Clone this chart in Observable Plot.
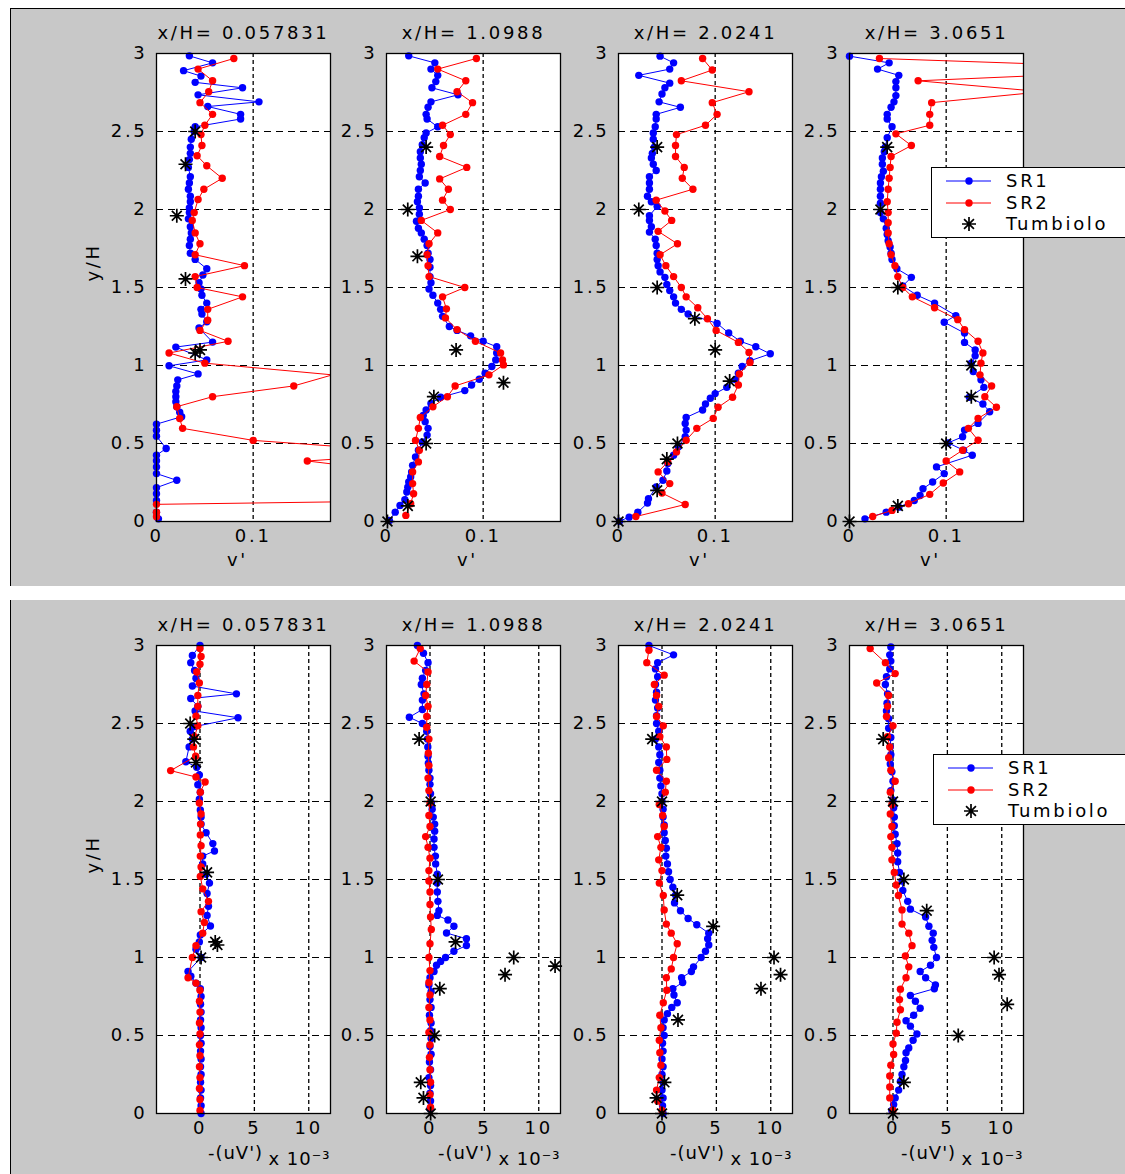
<!DOCTYPE html>
<html>
<head>
<meta charset="utf-8">
<script src="https://cdn.jsdelivr.net/npm/d3@7"></script>
<script src="https://cdn.jsdelivr.net/npm/@observablehq/plot@0.6"></script>
<style>
  html, body { margin: 0; padding: 0; background: white; }
  body { width: 1125px; height: 1174px; overflow: hidden; position: relative; font-family: "DejaVu Sans", sans-serif; }
  .fig { position: absolute; background: #c8c8c8; }
  .pan { position: absolute; }
  .leg { position: absolute; z-index: 5; }
</style>
</head>
<body>
<div class="fig" style="left:10px;top:8px;width:1115px;height:577px;border-left:1px solid #000;border-top:1px solid #000;"></div>
<div class="fig" style="left:10px;top:600px;width:1115px;height:574px;border-left:1px solid #000;"></div>
<div id="root"></div>
<script>
// ---------------- data ----------------
const titles = ["x/H= 0.057831", "x/H= 1.0988", "x/H= 2.0241", "x/H= 3.0651"];
const seriesNames = ["SR1", "SR2", "Tumbiolo"];
const yTicks = [0, 0.5, 1, 1.5, 2, 2.5, 3];
const vTicks = [0, 0.1];
const uvTicks = [0, 5, 10];
const vLabel = "v'";
const uvLabel = "-(uV')";
const uvExponent = "x 10\u207B\u00B3";
const yLabel = "y/H";

// v' profiles  [v', y/H]
const vSR1_1 = [[0.034,2.985],[0.058,2.94],[0.028,2.89],[0.046,2.855],[0.040,2.815],[0.089,2.78],[0.043,2.735],[0.106,2.69],[0.053,2.66],[0.087,2.61],[0.087,2.58],[0.040,2.53],[0.039,2.50],[0.036,2.45],[0.035,2.40],[0.035,2.36],[0.034,2.32],[0.033,2.27],[0.035,2.21],[0.034,2.17],[0.033,2.13],[0.035,2.085],[0.035,2.05],[0.034,2.01],[0.034,1.98],[0.033,1.94],[0.035,1.89],[0.036,1.85],[0.035,1.81],[0.034,1.77],[0.035,1.72],[0.040,1.68],[0.052,1.62],[0.048,1.58],[0.044,1.53],[0.046,1.49],[0.047,1.45],[0.052,1.40],[0.046,1.36],[0.047,1.33],[0.052,1.28],[0.044,1.24],[0.058,1.15],[0.020,1.118],[0.052,1.036],[0.013,0.998],[0.043,0.946],[0.022,0.908],[0.021,0.869],[0.020,0.833],[0.020,0.80],[0.020,0.768],[0.021,0.736],[0.024,0.70],[0.026,0.672],[0.0,0.624],[0.0,0.585],[0.0,0.547],[0.010,0.468],[0.0,0.425],[0.0,0.39],[0.0,0.35],[0.0,0.307],[0.021,0.264],[0.0,0.217],[0.0,0.178],[0.0,0.135],[0.0,0.06],[0.002,0.017]];
const vSR2_1 = [[0.080,2.968],[0.043,2.90],[0.058,2.825],[0.054,2.755],[0.045,2.685],[0.058,2.61],[0.050,2.54],[0.046,2.48],[0.047,2.41],[0.042,2.345],[0.052,2.28],[0.068,2.20],[0.049,2.13],[0.043,2.064],[0.039,1.98],[0.037,1.93],[0.040,1.85],[0.045,1.78],[0.040,1.71],[0.091,1.64],[0.040,1.57],[0.042,1.50],[0.089,1.44],[0.053,1.36],[0.053,1.29],[0.045,1.225],[0.074,1.155],[0.013,1.08],[0.050,1.015],[0.182,0.94],[0.142,0.869],[0.058,0.80],[0.021,0.736],[0.024,0.66],[0.027,0.597],[0.100,0.52],[0.28,0.44],[0.156,0.388],[0.22,0.34],[0.30,0.29],[0.36,0.24],[0.42,0.19],[0.47,0.15],[0.0,0.11],[0.0,0.06],[0.0,0.03]];
const vTum_1 = [[0.040,2.5],[0.030,2.29],[0.021,1.96],[0.030,1.555],[0.045,1.10],[0.040,1.08]];

const vSR1_2 = [[0.023,2.985],[0.050,2.94],[0.046,2.90],[0.053,2.86],[0.051,2.82],[0.047,2.78],[0.074,2.735],[0.046,2.69],[0.043,2.655],[0.041,2.61],[0.042,2.58],[0.053,2.53],[0.041,2.49],[0.039,2.46],[0.037,2.415],[0.035,2.37],[0.035,2.33],[0.036,2.29],[0.035,2.25],[0.034,2.21],[0.040,2.17],[0.033,2.13],[0.033,2.085],[0.032,2.05],[0.034,2.01],[0.034,1.97],[0.031,1.925],[0.033,1.88],[0.036,1.85],[0.039,1.81],[0.042,1.77],[0.043,1.72],[0.045,1.68],[0.045,1.63],[0.045,1.57],[0.046,1.53],[0.044,1.49],[0.048,1.45],[0.053,1.40],[0.056,1.36],[0.058,1.315],[0.065,1.25],[0.073,1.225],[0.087,1.19],[0.100,1.155],[0.114,1.12],[0.114,1.08],[0.113,1.036],[0.109,0.994],[0.102,0.951],[0.096,0.912],[0.088,0.875],[0.081,0.839],[0.056,0.796],[0.046,0.757],[0.041,0.715],[0.038,0.68],[0.040,0.64],[0.043,0.597],[0.042,0.554],[0.037,0.51],[0.033,0.457],[0.030,0.414],[0.027,0.36],[0.026,0.318],[0.025,0.285],[0.023,0.253],[0.022,0.22],[0.021,0.189],[0.019,0.14],[0.014,0.103],[0.009,0.06],[0.003,0.006]];
const vSR2_2 = [[0.093,2.968],[0.053,2.90],[0.082,2.825],[0.073,2.755],[0.089,2.685],[0.082,2.61],[0.058,2.54],[0.066,2.48],[0.059,2.41],[0.055,2.34],[0.083,2.27],[0.055,2.196],[0.064,2.13],[0.058,2.06],[0.066,2.0],[0.036,1.93],[0.053,1.85],[0.044,1.78],[0.042,1.71],[0.043,1.64],[0.044,1.57],[0.081,1.50],[0.058,1.44],[0.062,1.363],[0.061,1.305],[0.073,1.23],[0.092,1.155],[0.118,1.08],[0.120,1.036],[0.121,1.004],[0.106,0.94],[0.071,0.869],[0.063,0.80],[0.048,0.736],[0.035,0.667],[0.033,0.597],[0.030,0.52],[0.034,0.457],[0.033,0.382],[0.027,0.318],[0.027,0.243],[0.028,0.178],[0.025,0.114],[0.020,0.039]];
const vTum_2 = [[0.041,2.40],[0.022,2.0],[0.032,1.70],[0.072,1.10],[0.121,0.89],[0.049,0.80],[0.041,0.50],[0.022,0.10],[0.001,0.0]];

const vSR1_3 = [[0.043,2.983],[0.057,2.94],[0.053,2.90],[0.021,2.86],[0.053,2.81],[0.048,2.78],[0.045,2.74],[0.042,2.69],[0.064,2.655],[0.039,2.61],[0.039,2.58],[0.038,2.53],[0.036,2.49],[0.036,2.45],[0.037,2.40],[0.035,2.36],[0.034,2.33],[0.036,2.29],[0.039,2.25],[0.032,2.21],[0.032,2.17],[0.032,2.13],[0.030,2.085],[0.034,2.05],[0.040,2.02],[0.032,1.96],[0.032,1.93],[0.034,1.89],[0.032,1.855],[0.038,1.81],[0.039,1.77],[0.040,1.72],[0.040,1.68],[0.041,1.64],[0.043,1.60],[0.048,1.565],[0.050,1.52],[0.053,1.48],[0.057,1.44],[0.059,1.40],[0.065,1.36],[0.072,1.33],[0.102,1.27],[0.114,1.208],[0.126,1.155],[0.142,1.12],[0.157,1.075],[0.136,1.03],[0.128,0.994],[0.124,0.95],[0.121,0.91],[0.112,0.86],[0.100,0.82],[0.095,0.79],[0.090,0.753],[0.087,0.715],[0.070,0.667],[0.069,0.629],[0.070,0.586],[0.069,0.543],[0.062,0.479],[0.057,0.425],[0.051,0.371],[0.050,0.324],[0.046,0.264],[0.039,0.221],[0.031,0.146],[0.030,0.118],[0.020,0.06],[0.011,0.028],[0.001,0.002]];
const vSR2_3 = [[0.087,2.968],[0.097,2.894],[0.065,2.825],[0.135,2.755],[0.097,2.685],[0.102,2.61],[0.090,2.54],[0.060,2.48],[0.059,2.41],[0.059,2.34],[0.068,2.27],[0.066,2.20],[0.077,2.13],[0.039,2.06],[0.048,1.99],[0.055,1.93],[0.041,1.86],[0.061,1.78],[0.043,1.71],[0.049,1.64],[0.057,1.57],[0.065,1.50],[0.070,1.44],[0.082,1.37],[0.092,1.30],[0.101,1.225],[0.124,1.148],[0.135,1.084],[0.136,1.02],[0.125,0.946],[0.124,0.875],[0.118,0.796],[0.103,0.732],[0.098,0.661],[0.081,0.597],[0.070,0.521],[0.060,0.446],[0.051,0.382],[0.041,0.318],[0.053,0.243],[0.045,0.182],[0.069,0.109],[0.018,0.032]];
const vTum_3 = [[0.040,2.40],[0.021,2.0],[0.040,1.50],[0.079,1.30],[0.100,1.10],[0.115,0.90],[0.061,0.50],[0.050,0.40],[0.040,0.20],[0.0,0.0]];

const vSR1_4 = [[0.0,2.983],[0.041,2.94],[0.029,2.90],[0.051,2.86],[0.048,2.82],[0.048,2.78],[0.048,2.73],[0.046,2.69],[0.043,2.655],[0.039,2.61],[0.039,2.58],[0.044,2.53],[0.039,2.46],[0.037,2.40],[0.036,2.37],[0.034,2.33],[0.034,2.29],[0.035,2.245],[0.033,2.21],[0.032,2.17],[0.032,2.13],[0.032,2.085],[0.032,2.04],[0.032,1.98],[0.035,1.94],[0.038,1.88],[0.039,1.84],[0.040,1.80],[0.042,1.76],[0.043,1.72],[0.044,1.68],[0.049,1.62],[0.064,1.565],[0.055,1.51],[0.070,1.45],[0.088,1.40],[0.110,1.32],[0.098,1.277],[0.119,1.208],[0.119,1.148],[0.130,1.10],[0.130,1.062],[0.126,1.015],[0.128,0.961],[0.136,0.908],[0.139,0.86],[0.124,0.796],[0.138,0.753],[0.145,0.704],[0.133,0.629],[0.119,0.586],[0.117,0.543],[0.102,0.504],[0.118,0.457],[0.127,0.425],[0.090,0.35],[0.098,0.307],[0.086,0.253],[0.076,0.21],[0.073,0.167],[0.067,0.135],[0.051,0.092],[0.038,0.06],[0.016,0.017]];
const vSR2_4 = [[0.031,2.968],[0.35,2.90],[0.071,2.825],[0.20,2.755],[0.085,2.685],[0.083,2.61],[0.083,2.54],[0.048,2.485],[0.064,2.41],[0.043,2.34],[0.042,2.27],[0.041,2.20],[0.040,2.13],[0.039,2.05],[0.040,1.98],[0.040,1.915],[0.040,1.85],[0.041,1.78],[0.043,1.71],[0.047,1.64],[0.050,1.57],[0.055,1.50],[0.065,1.44],[0.088,1.37],[0.112,1.294],[0.119,1.23],[0.133,1.155],[0.138,1.08],[0.136,1.015],[0.135,0.94],[0.147,0.869],[0.140,0.80],[0.152,0.732],[0.133,0.661],[0.123,0.597],[0.133,0.521],[0.117,0.457],[0.100,0.388],[0.114,0.318],[0.097,0.247],[0.083,0.174],[0.061,0.114],[0.044,0.071],[0.024,0.032]];
const vTum_4 = [[0.039,2.40],[0.032,2.0],[0.050,1.50],[0.126,1.0],[0.126,0.80],[0.100,0.50],[0.050,0.10],[0.0,0.0]];

// -(uv') profiles, units of 1e-3  [-(uv'), y/H]
const uvSR1_1 = [[0,3.0],[-0.7,2.936],[-0.85,2.89],[-0.5,2.84],[-0.37,2.79],[-0.7,2.74],[3.35,2.69],[-0.85,2.66],[-0.2,2.61],[-0.45,2.58],[3.5,2.537],[-0.5,2.48],[-0.9,2.45],[-0.7,2.40],[-1.0,2.35],[-1.3,2.255],[-0.3,2.22],[-0.06,2.17],[-0.2,2.107],[0.03,2.06],[-0.06,2.015],[0.03,1.946],[0.1,1.90],[0.1,1.855],[0.56,1.80],[1.18,1.73],[1.33,1.683],[0.25,1.65],[0.25,1.60],[0.56,1.534],[0.87,1.477],[0.65,1.41],[0.78,1.328],[0.65,1.27],[0.96,1.202],[0.03,1.145],[-0.06,1.10],[-0.37,1.053],[0.1,1.0],[-1.1,0.91],[-0.84,0.88],[-0.37,0.836],[0.03,0.80],[0.1,0.75],[0.05,0.70],[0.1,0.65],[0.05,0.60],[0.1,0.55],[0.05,0.50],[0.1,0.45],[0.05,0.40],[0.1,0.35],[0.05,0.30],[0.1,0.25],[0.05,0.20],[0.1,0.15],[0.05,0.10],[0.1,0.05],[0.1,0.0]];
const uvSR2_1 = [[0.0,2.98],[0.1,2.93],[0.0,2.88],[-0.3,2.83],[-0.06,2.76],[-0.2,2.68],[-0.2,2.61],[-0.37,2.546],[-0.2,2.485],[-0.5,2.415],[-0.6,2.35],[-0.4,2.29],[-2.7,2.198],[-0.37,2.157],[0.47,2.125],[0.03,2.06],[-0.06,1.99],[0.1,1.92],[0.05,1.855],[0.03,1.786],[0.1,1.717],[0.03,1.65],[0.1,1.58],[0.03,1.52],[0.25,1.44],[0.78,1.36],[0.1,1.294],[0.4,1.225],[0.25,1.156],[-0.37,1.076],[-0.7,1.0],[-1.1,0.87],[-0.37,0.836],[0.0,0.79],[-0.05,0.72],[0.0,0.65],[-0.05,0.58],[0.0,0.51],[-0.05,0.44],[0.0,0.37],[-0.05,0.30],[0.0,0.23],[-0.05,0.16],[0.0,0.09],[0.0,0.02]];
const uvTum_1 = [[-0.9,2.50],[-0.53,2.40],[-0.37,2.25],[0.65,1.546],[1.4,1.10],[1.6,1.08],[0.1,1.0]];

const uvSR1_2 = [[-1.16,3.0],[-0.6,2.95],[-0.18,2.89],[-0.4,2.84],[-0.7,2.79],[-0.8,2.75],[-0.55,2.69],[-0.7,2.65],[-0.7,2.59],[-1.9,2.54],[-0.7,2.50],[-0.3,2.45],[-0.24,2.40],[-0.2,2.35],[-0.18,2.29],[-0.15,2.245],[-0.1,2.20],[0.0,2.15],[0.0,2.11],[0.05,2.05],[0.12,1.99],[0.2,1.95],[0.3,1.90],[0.43,1.855],[0.43,1.81],[0.37,1.76],[0.37,1.706],[0.5,1.65],[0.52,1.60],[0.67,1.534],[0.65,1.477],[0.67,1.42],[0.73,1.36],[0.82,1.30],[0.67,1.27],[1.65,1.24],[2.2,1.20],[1.52,1.157],[3.35,1.12],[3.35,1.077],[2.2,1.04],[1.43,1.0],[0.98,0.975],[0.6,0.95],[0.37,0.91],[0.0,0.87],[-0.1,0.824],[0.1,0.78],[0.0,0.73],[0.1,0.68],[-0.05,0.63],[0.1,0.58],[0.05,0.53],[0.1,0.48],[0.0,0.43],[0.1,0.38],[-0.05,0.33],[0.05,0.28],[-0.1,0.23],[0.05,0.18],[0.0,0.13],[0.05,0.08],[0.0,0.03]];
const uvSR2_2 = [[-0.9,2.98],[-1.46,2.90],[-0.18,2.83],[-0.3,2.75],[-0.4,2.68],[-0.18,2.61],[-0.3,2.545],[-0.3,2.476],[-0.1,2.40],[-0.15,2.31],[-0.1,2.23],[-0.18,2.15],[-0.1,2.07],[0.0,1.99],[-0.1,1.91],[0.0,1.84],[-0.4,1.775],[-0.18,1.706],[0.0,1.637],[-0.1,1.557],[-0.1,1.49],[0.0,1.42],[0.0,1.34],[0.05,1.26],[0.12,1.18],[0.0,1.088],[-0.1,1.0],[0.0,0.916],[-0.1,0.84],[0.0,0.76],[-0.1,0.68],[0.0,0.60],[-0.1,0.52],[0.0,0.44],[-0.05,0.36],[0.0,0.28],[0.05,0.20],[0.0,0.12],[0.05,0.04]];
const uvTum_2 = [[-1.0,2.40],[0.06,2.0],[0.73,1.5],[2.35,1.10],[7.7,1.0],[6.9,0.89],[11.5,0.945],[0.9,0.80],[0.43,0.5],[-0.85,0.2],[-0.6,0.1],[0.06,0.0]];

const uvSR1_3 = [[-1.2,3.0],[1.06,2.94],[-0.4,2.89],[-0.6,2.85],[-0.4,2.80],[-0.6,2.75],[-0.5,2.70],[-0.6,2.65],[-0.4,2.60],[-0.5,2.55],[-0.5,2.50],[-0.3,2.45],[-0.6,2.40],[-0.3,2.35],[-0.2,2.30],[-0.3,2.25],[-0.2,2.20],[-0.2,2.15],[-0.1,2.10],[0.0,2.05],[0.0,2.0],[0.1,1.95],[0.1,1.90],[0.2,1.85],[0.2,1.80],[0.3,1.75],[0.4,1.70],[0.35,1.65],[0.5,1.60],[0.6,1.55],[0.75,1.50],[1.0,1.45],[1.25,1.40],[1.15,1.35],[1.7,1.30],[2.4,1.25],[3.2,1.21],[4.3,1.156],[4.2,1.12],[4.3,1.08],[4.0,1.04],[3.6,1.0],[2.9,0.94],[2.7,0.91],[1.8,0.87],[1.9,0.84],[1.0,0.80],[1.1,0.76],[1.4,0.71],[0.9,0.68],[0.5,0.64],[0.2,0.60],[0.1,0.55],[0.2,0.50],[0.05,0.45],[0.1,0.40],[0.0,0.35],[0.1,0.30],[0.0,0.25],[0.1,0.20],[0.0,0.15],[0.1,0.10],[0.05,0.05],[0.1,0.0]];
const uvSR2_3 = [[-1.2,2.97],[-1.4,2.89],[0.2,2.81],[-0.7,2.75],[-0.5,2.68],[-0.3,2.61],[-0.5,2.545],[0.12,2.485],[-0.2,2.415],[0.4,2.35],[0.44,2.27],[-0.5,2.20],[0.4,2.13],[0.3,2.06],[-0.25,1.98],[0.06,1.91],[0.2,1.84],[-0.4,1.775],[-0.1,1.706],[-0.3,1.626],[0.0,1.557],[-0.25,1.477],[0.12,1.397],[0.2,1.305],[0.4,1.214],[0.85,1.156],[1.4,1.088],[1.06,1.0],[0.85,0.927],[0.4,0.87],[0.44,0.79],[0.12,0.71],[-0.2,0.63],[-0.1,0.55],[-0.25,0.47],[-0.2,0.39],[-0.1,0.31],[-0.25,0.23],[-0.5,0.15],[-0.4,0.08],[0.0,0.02]];
const uvTum_3 = [[-0.9,2.40],[0.0,2.0],[1.4,1.40],[4.7,1.20],[10.3,1.0],[10.9,0.89],[9.1,0.80],[1.47,0.60],[0.22,0.2],[-0.5,0.1],[0.0,0.0]];

const uvSR1_4 = [[-0.2,2.99],[-0.3,2.94],[-0.2,2.90],[-0.3,2.85],[-0.6,2.80],[-0.7,2.75],[-0.5,2.69],[-0.55,2.63],[-0.6,2.58],[-0.4,2.53],[-0.4,2.47],[-0.2,2.41],[-0.25,2.35],[-0.2,2.30],[-0.25,2.24],[-0.1,2.19],[0.0,2.13],[-0.2,2.07],[0.0,2.01],[0.06,1.96],[0.12,1.90],[0.12,1.845],[0.2,1.79],[0.37,1.73],[0.43,1.67],[0.43,1.614],[0.6,1.545],[0.83,1.49],[0.9,1.43],[1.35,1.36],[1.6,1.31],[3.0,1.26],[3.3,1.20],[3.7,1.156],[3.6,1.11],[3.75,1.065],[4.0,1.0],[3.45,0.95],[2.5,0.91],[3.0,0.87],[3.9,0.824],[3.8,0.80],[1.6,0.756],[2.06,0.72],[2.5,0.675],[1.9,0.63],[1.2,0.595],[1.6,0.56],[2.2,0.51],[1.85,0.47],[1.45,0.42],[1.2,0.39],[1.15,0.34],[1.0,0.30],[0.83,0.25],[0.68,0.206],[0.52,0.15],[0.2,0.10],[0.06,0.057],[-0.1,0.02]];
const uvSR2_4 = [[-2.1,2.98],[-0.7,2.89],[0.2,2.82],[-1.5,2.76],[-0.4,2.68],[-0.5,2.61],[-0.6,2.545],[0.0,2.485],[-0.5,2.415],[-0.3,2.35],[-0.4,2.28],[-0.2,2.20],[0.2,2.13],[-0.25,2.06],[-0.1,1.98],[-0.25,1.92],[-0.1,1.84],[-0.2,1.775],[-0.1,1.706],[-0.1,1.626],[0.12,1.545],[0.3,1.465],[0.5,1.397],[0.83,1.305],[0.83,1.214],[1.45,1.156],[1.75,1.076],[1.14,1.01],[1.45,0.94],[1.2,0.87],[0.68,0.797],[0.6,0.73],[0.68,0.665],[0.37,0.585],[0.3,0.515],[0.0,0.446],[0.06,0.378],[-0.2,0.31],[-0.3,0.24],[-0.3,0.17],[-0.3,0.10],[0.0,0.02]];
const uvTum_4 = [[-0.9,2.40],[0.0,2.0],[1.0,1.5],[3.1,1.30],[9.3,1.0],[9.75,0.89],[10.5,0.70],[6.0,0.5],[1.0,0.2],[0.0,0.0]];

// ---------------- layout / style ----------------
const colors = {SR1: "#0000ff", SR2: "#ff0000", Tumbiolo: "#000000"};
const panelLefts = [156, 386, 618, 849];
const rowTops = [53, 645];
const plotW = 174, plotH = 468;
const M = {l: 75, r: 8, t: 45, b: 62};
const textStyle = {fontFamily: "'DejaVu Sans', sans-serif", fontSize: "18px", letterSpacing: "2.7px"};

const asterisk = {
  draw(ctx, size) {
    const r = Math.sqrt(size / Math.PI), d = r * 0.7071;
    ctx.moveTo(-r, 0); ctx.lineTo(r, 0);
    ctx.moveTo(0, -r); ctx.lineTo(0, r);
    ctx.moveTo(-d, -d); ctx.lineTo(d, d);
    ctx.moveTo(-d, d); ctx.lineTo(d, -d);
  }
};

const rows = [
  {xDomain: [0, 0.18], xTicks: vTicks, grid: vTicks.slice(1), xlabel: vLabel, exponent: null,
   series: [[vSR1_1, vSR2_1, vTum_1], [vSR1_2, vSR2_2, vTum_2], [vSR1_3, vSR2_3, vTum_3], [vSR1_4, vSR2_4, vTum_4]]},
  {xDomain: [-4, 12], xTicks: uvTicks, grid: uvTicks, xlabel: uvLabel, exponent: uvExponent,
   series: [[uvSR1_1, uvSR2_1, uvTum_1], [uvSR1_2, uvSR2_2, uvTum_2], [uvSR1_3, uvSR2_3, uvTum_3], [uvSR1_4, uvSR2_4, uvTum_4]]}
];

const root = document.getElementById("root");

rows.forEach((row, ri) => {
  row.series.forEach(([s1, s2, st], pi) => {
    const inDom = d => d[0] >= row.xDomain[0] && d[0] <= row.xDomain[1];
    const marks = [
      Plot.frame({fill: "white", stroke: "none"}),
      Plot.ruleY(yTicks, {stroke: "black", strokeWidth: 1.1, strokeDasharray: "7,5"}),
      Plot.ruleX(row.grid, {stroke: "black", strokeWidth: 1.3, strokeDasharray: "4,3"}),
      Plot.line(s1, {x: d => d[0], y: d => d[1], stroke: colors.SR1, strokeWidth: 1, clip: true}),
      Plot.dot(s1, {x: d => d[0], y: d => d[1], r: 3.7, fill: colors.SR1, filter: inDom}),
      Plot.line(s2, {x: d => d[0], y: d => d[1], stroke: colors.SR2, strokeWidth: 1, clip: true}),
      Plot.dot(s2, {x: d => d[0], y: d => d[1], r: 3.7, fill: colors.SR2, filter: inDom}),
      Plot.dot(st, {x: d => d[0], y: d => d[1], r: 7, symbol: asterisk, stroke: colors.Tumbiolo, strokeWidth: 1.7, fill: "none"}),
      Plot.frame({stroke: "black", strokeWidth: 1.3}),
      Plot.axisY({ticks: yTicks, tickSize: 0, tickPadding: 9, tickFormat: d => String(d), label: null}),
      Plot.axisX({ticks: row.xTicks, tickSize: 0, tickPadding: 8, tickFormat: d => String(d), label: null}),
      Plot.text([titles[pi]], {text: d => d, frameAnchor: "top", dy: -20, lineAnchor: "middle", fill: "black"}),
      Plot.text([row.xlabel], {text: d => d, frameAnchor: "bottom", dy: row.exponent ? 40 : 39, dx: row.exponent ? -8 : -6, lineAnchor: "middle", fill: "black", style: row.exponent ? {letterSpacing: "1px"} : undefined})
    ];
    if (row.exponent) {
      marks.push(Plot.text([row.exponent], {text: d => d, frameAnchor: "bottom-right", textAnchor: "end", dx: 0, dy: 46, lineAnchor: "middle", fill: "black"}));
    }
    if (pi === 0) {
      marks.push(Plot.text([yLabel], {text: d => d, frameAnchor: "left", dx: -63, dy: -6, rotate: -90, lineAnchor: "middle", fill: "black"}));
    }
    const svg = Plot.plot({
      width: M.l + plotW + M.r,
      height: M.t + plotH + M.b,
      marginLeft: M.l, marginRight: M.r, marginTop: M.t, marginBottom: M.b,
      x: {domain: row.xDomain},
      y: {domain: [0, 3]},
      style: Object.assign({background: "transparent", overflow: "visible", color: "black", maxWidth: "none"}, textStyle),
      marks
    });
    svg.classList.add("pan");
    svg.style.position = "absolute";
    svg.style.left = (panelLefts[pi] - M.l) + "px";
    svg.style.top = (rowTops[ri] - M.t) + "px";
    if (row.exponent) {
      // narrower spacing for the bottom-row axis label and exponent so they don't collide
      const texts = svg.querySelectorAll("text");
      texts.forEach(t => {
        if (t.textContent === uvLabel || t.textContent === uvExponent) t.style.letterSpacing = "1px";
      });
    }
    root.appendChild(svg);
  });
});

// ---------------- legends ----------------
function legend(left, top) {
  const svg = d3.create("svg").attr("class", "leg").attr("width", 230).attr("height", 74)
    .style("left", left + "px").style("top", top + "px").style("overflow", "visible");
  svg.append("rect").attr("x", 0.5).attr("y", 0.5).attr("width", 228).attr("height", 70)
    .attr("fill", "white").attr("stroke", "black").attr("stroke-width", 1);
  const rowY = [14, 36, 57];
  seriesNames.forEach((name, i) => {
    const g = svg.append("g").attr("transform", `translate(0,${rowY[i]})`);
    if (name !== "Tumbiolo") {
      g.append("line").attr("x1", 15).attr("x2", 60).attr("y1", 0).attr("y2", 0).attr("stroke", colors[name]).attr("stroke-width", 1);
      g.append("circle").attr("cx", 38).attr("cy", 0).attr("r", 3.7).attr("fill", colors[name]);
    } else {
      const r = 7, d = r * 0.7071;
      g.append("path").attr("transform", "translate(38,0)")
        .attr("d", `M${-r},0L${r},0M0,${-r}L0,${r}M${-d},${-d}L${d},${d}M${-d},${d}L${d},${-d}`)
        .attr("stroke", "black").attr("stroke-width", 1.7).attr("fill", "none");
    }
    g.append("text").attr("x", 75).attr("y", 0).attr("dy", "0.35em").text(name)
      .style("font-family", textStyle.fontFamily).style("font-size", textStyle.fontSize)
      .style("letter-spacing", textStyle.letterSpacing).attr("fill", "black");
  });
  document.body.appendChild(svg.node());
}
legend(931, 167);
legend(933, 754);
</script>
</body>
</html>
